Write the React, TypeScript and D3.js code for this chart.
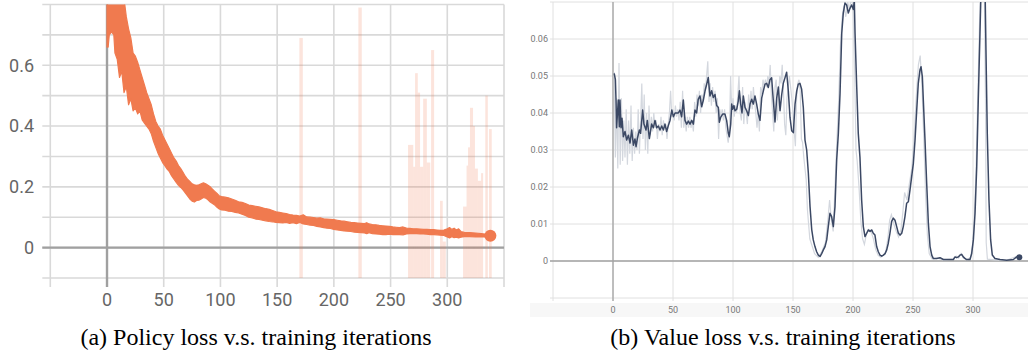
import React from "react";
import { select, scaleLinear, line, area } from "d3";

// (a) policy loss: smoothed curve drawn as a band (low / high edge)
const policySteps = [0, 1, 2, 4, 6, 7, 9, 11, 13, 15, 17, 19, 21, 23, 25, 27, 29, 31, 33, 35, 37, 39, 41, 43, 45, 47, 49, 51, 53, 55, 57, 59, 61, 63, 65, 67, 69, 71, 73, 75, 77, 79, 81, 83, 85, 87, 89, 91, 93, 95, 97, 99, 101, 104, 107, 110, 113, 116, 119, 122, 125, 128, 131, 134, 137, 140, 143, 146, 149, 152, 155, 158, 161, 164, 167, 170, 173, 176, 179, 182, 185, 188, 191, 194, 197, 200, 203, 206, 209, 212, 215, 218, 221, 224, 227, 229, 231, 234, 237, 240, 243, 246, 249, 252, 255, 258, 261, 264, 267, 270, 273, 276, 279, 282, 285, 288, 291, 294, 297, 300, 302, 304, 306, 308, 310, 312, 315, 320, 325, 330, 335, 338];
const policyHi = [0.86, 0.86, 0.86, 0.86, 0.86, 0.86, 0.86, 0.86, 0.86, 0.82, 0.76, 0.72, 0.69, 0.64, 0.63, 0.61, 0.585, 0.56, 0.535, 0.51, 0.49, 0.47, 0.44, 0.415, 0.4, 0.39, 0.37, 0.355, 0.34, 0.325, 0.31, 0.295, 0.285, 0.27, 0.26, 0.248, 0.235, 0.225, 0.218, 0.21, 0.207, 0.205, 0.207, 0.21, 0.213, 0.21, 0.205, 0.2, 0.192, 0.185, 0.178, 0.17, 0.168, 0.166, 0.164, 0.16, 0.156, 0.151, 0.149, 0.145, 0.14, 0.138, 0.136, 0.134, 0.131, 0.128, 0.126, 0.122, 0.118, 0.116, 0.114, 0.112, 0.109, 0.107, 0.106, 0.104, 0.108, 0.101, 0.1, 0.099, 0.097, 0.098, 0.095, 0.094, 0.093, 0.092, 0.09, 0.088, 0.087, 0.085, 0.083, 0.082, 0.081, 0.08, 0.079, 0.082, 0.078, 0.076, 0.075, 0.073, 0.072, 0.071, 0.07, 0.068, 0.067, 0.066, 0.068, 0.064, 0.063, 0.062, 0.062, 0.061, 0.06, 0.06, 0.059, 0.059, 0.058, 0.057, 0.058, 0.062, 0.066, 0.06, 0.064, 0.058, 0.062, 0.053, 0.05, 0.049, 0.048, 0.046, 0.044, 0.043];
const policyLo = [0.66, 0.66, 0.7, 0.71, 0.7, 0.64, 0.62, 0.56, 0.58, 0.51, 0.53, 0.47, 0.49, 0.45, 0.46, 0.44, 0.45, 0.42, 0.41, 0.4, 0.39, 0.375, 0.35, 0.33, 0.31, 0.295, 0.28, 0.27, 0.258, 0.25, 0.236, 0.225, 0.215, 0.205, 0.198, 0.19, 0.18, 0.17, 0.16, 0.153, 0.15, 0.155, 0.156, 0.16, 0.165, 0.163, 0.157, 0.15, 0.145, 0.14, 0.133, 0.127, 0.124, 0.123, 0.12, 0.119, 0.116, 0.114, 0.11, 0.106, 0.1, 0.098, 0.094, 0.093, 0.09, 0.088, 0.086, 0.085, 0.083, 0.082, 0.081, 0.083, 0.08, 0.082, 0.079, 0.083, 0.078, 0.076, 0.074, 0.073, 0.07, 0.068, 0.066, 0.064, 0.063, 0.06, 0.058, 0.057, 0.055, 0.054, 0.053, 0.051, 0.05, 0.049, 0.048, 0.046, 0.049, 0.046, 0.045, 0.044, 0.043, 0.043, 0.044, 0.043, 0.043, 0.043, 0.042, 0.045, 0.046, 0.046, 0.046, 0.045, 0.045, 0.044, 0.043, 0.043, 0.042, 0.041, 0.04, 0.035, 0.032, 0.036, 0.033, 0.034, 0.032, 0.034, 0.036, 0.036, 0.035, 0.035, 0.035, 0.035];
const policyLast = { step: 338, value: 0.039 };

// (a) raw spikes (faded)
const spikeStart = [169.6, 221.6, 265.4, 270, 271.6, 274, 276, 278.7, 282, 285.7, 293.6, 296, 313.9, 317, 318.3, 320, 322.7, 324.4, 327, 329.8, 333.5, 336.8];
const spikeEnd = [172.6, 224.6, 270, 271.6, 274, 276, 278.7, 282, 285, 288.4, 296, 298.7, 317, 318.3, 320, 322.7, 324.4, 327, 329.8, 331.6, 335.7, 339.2];
const spikeTop = [0.69, 0.79, 0.338, 0.266, 0.574, 0.51, 0.266, 0.49, 0.28, 0.65, 0.154, 0.02, 0.135, 0.27, 0.33, 0.46, 0.4, 0.26, 0.22, 0.245, 0.5, 0.39];

const policyXTicks = [0, 50, 100, 150, 200, 250, 300];
const policyYTicks = [0, 0.2, 0.4, 0.6];
const policyXGrid = [-50, 0, 50, 100, 150, 200, 250, 300, 350];
const policyYGrid = [-0.1, 0, 0.1, 0.2, 0.3, 0.4, 0.5, 0.6, 0.7, 0.8];

// (b) value loss: smoothed
const valueSteps = [1, 2, 2.5, 3, 4.4, 5.3, 5.8, 6.7, 7.5, 8.6, 10, 11.4, 12.8, 14.2, 15.6, 17, 18.3, 19.2, 20.3, 22, 23, 24.7, 25.8, 27.5, 28.6, 30.3, 32.2, 33.6, 35, 36.4, 37.8, 39.2, 40.6, 42, 43.3, 44.7, 46, 47.5, 49, 50.3, 51.7, 53, 54.4, 55.8, 57.2, 58.6, 60, 61.4, 62.8, 64.2, 65.6, 67, 68.3, 69.7, 71, 72.5, 73.9, 75.3, 76.7, 78.1, 79.4, 80.8, 82.2, 83.6, 85, 86.4, 87.8, 88.6, 89.7, 91.4, 93.3, 94.7, 96.1, 96.9, 98.1, 98.9, 99.7, 100.8, 101.7, 103.1, 104.4, 105.3, 106.4, 107.5, 108.6, 110, 111.4, 112.8, 114.2, 115.6, 116.9, 118.3, 119.7, 121.1, 122.5, 123.9, 125.3, 126.7, 128.1, 129.4, 130.8, 132.2, 133.6, 135, 136.4, 137.8, 139.2, 140.6, 141.9, 143.3, 144.7, 146.1, 147.5, 148.9, 150.3, 151.7, 153.1, 154.4, 155.8, 157.2, 158.6, 160, 161.4, 162.8, 164.2, 165.6, 166.9, 168.3, 169.7, 171.1, 172.5, 173.9, 175.3, 176.7, 178.1, 179.4, 180.8, 182.2, 183.6, 185, 186.4, 187.8, 189.2, 190.6, 191.9, 193.3, 194.7, 196.1, 197.5, 198.9, 200.3, 201.1, 201.7, 203.1, 204.4, 205.8, 207.2, 208.6, 210, 211.4, 212.8, 214.2, 215.6, 216.9, 218.3, 219.7, 221.1, 222.5, 223.9, 225.3, 226.7, 228.1, 229.4, 230.8, 232.2, 233.6, 235, 236.4, 237.8, 239.2, 240.6, 241.9, 243.3, 244.7, 246.1, 247.5, 248.9, 250.3, 251.7, 253.1, 254.4, 255.8, 256.7, 257.8, 258.6, 260, 261.4, 262.8, 264.2, 265.6, 266.9, 269.7, 272.5, 275.3, 283.6, 285, 286.4, 287.8, 289.2, 290.6, 291.9, 293.3, 294.7, 297.5, 298.9, 300.3, 301.7, 303.1, 304.4, 305.8, 307.2, 308.6, 310, 310.8, 311.9, 313.3, 314.7, 316.1, 318.3, 322.5, 328.1, 333.6, 336.4, 338.6];
const valueLoss = [0.0507, 0.049, 0.0435, 0.036, 0.0435, 0.0363, 0.0435, 0.036, 0.0386, 0.0336, 0.035, 0.0327, 0.034, 0.0319, 0.0354, 0.0313, 0.033, 0.0309, 0.0331, 0.0354, 0.0345, 0.0408, 0.037, 0.0354, 0.038, 0.0331, 0.037, 0.036, 0.038, 0.036, 0.0365, 0.0354, 0.0365, 0.0354, 0.037, 0.035, 0.0365, 0.038, 0.0408, 0.039, 0.04, 0.04, 0.04, 0.0408, 0.039, 0.0435, 0.038, 0.037, 0.0378, 0.037, 0.038, 0.037, 0.0408, 0.04, 0.0437, 0.0446, 0.0417, 0.0435, 0.046, 0.0478, 0.0496, 0.0446, 0.046, 0.0442, 0.045, 0.042, 0.0415, 0.0375, 0.0388, 0.0397, 0.0397, 0.038, 0.0345, 0.0336, 0.037, 0.0424, 0.041, 0.042, 0.0406, 0.041, 0.0433, 0.046, 0.0424, 0.04, 0.0446, 0.0415, 0.0406, 0.0393, 0.0424, 0.0437, 0.0424, 0.0446, 0.0424, 0.0397, 0.038, 0.044, 0.046, 0.0478, 0.048, 0.0469, 0.049, 0.0495, 0.0433, 0.0376, 0.044, 0.047, 0.0406, 0.045, 0.048, 0.0495, 0.051, 0.046, 0.0388, 0.0352, 0.0347, 0.0424, 0.046, 0.0478, 0.048, 0.0464, 0.0415, 0.0327, 0.03, 0.0237, 0.0147, 0.0085, 0.0057, 0.0039, 0.0025, 0.0016, 0.0012, 0.002, 0.003, 0.0039, 0.0057, 0.0093, 0.0129, 0.012, 0.0093, 0.0147, 0.0273, 0.0345, 0.0453, 0.0615, 0.067, 0.0697, 0.0692, 0.067, 0.0683, 0.0692, 0.068, 0.0705, 0.0615, 0.047, 0.0345, 0.028, 0.0165, 0.0093, 0.0066, 0.0075, 0.0084, 0.008, 0.0084, 0.0075, 0.007, 0.0039, 0.0025, 0.0016, 0.0013, 0.0016, 0.002, 0.003, 0.0048, 0.0075, 0.0107, 0.0116, 0.011, 0.0093, 0.0075, 0.007, 0.0075, 0.0093, 0.012, 0.0156, 0.016, 0.0192, 0.0228, 0.0264, 0.0327, 0.0408, 0.048, 0.0516, 0.0525, 0.0498, 0.0435, 0.0327, 0.021, 0.0102, 0.0039, 0.0016, 0.0007, 0.0007, 0.0009, 0.0004, 0.0004, 0.0011, 0.0009, 0.0011, 0.0016, 0.0018, 0.0011, 0.0007, 0.0004, 0.0004, 0.002, 0.0057, 0.0129, 0.0255, 0.0435, 0.0615, 0.08, 0.085, 0.075, 0.057, 0.0345, 0.0165, 0.0057, 0.0016, 0.0007, 0.0004, 0.0002, 0.0004, 0.0011, 0.001];

// (b) value loss: raw
const rawSteps = [1, 2, 3, 4, 5, 6, 7, 8, 9, 10, 11, 12, 13, 14, 15, 16, 17, 18, 19, 20, 21, 22, 23, 24, 25, 26, 27, 28, 29, 30, 31, 32, 33, 34, 35, 36, 37, 38, 39, 40, 41, 42, 43, 44, 45, 46, 47, 48, 49, 50, 51, 52, 53, 54, 55, 56, 57, 58, 59, 60, 61, 62, 63, 64, 65, 66, 67, 68, 69, 70, 71, 72, 73, 74, 75, 76, 77, 78, 79, 80, 81, 82, 83, 84, 85, 86, 87, 88, 89, 90, 91, 92, 93, 94, 95, 96, 97, 98, 99, 100, 101, 102, 103, 104, 105, 106, 107, 108, 109, 110, 111, 112, 113, 114, 115, 116, 117, 118, 119, 120, 121, 122, 123, 124, 125, 126, 127, 128, 129, 130, 131, 132, 133, 134, 135, 136, 137, 138, 139, 140, 141, 142, 143, 144, 145, 146, 147, 148, 149, 150, 151, 152, 153, 154, 155, 156, 157, 158, 159, 160, 161, 162, 163, 164, 166, 168, 171, 174, 177, 179, 180.5, 182, 183.5, 185, 186.5, 188, 189.5, 191, 192.5, 194, 195.5, 197, 198.5, 200, 201.5, 202.5, 203.5, 205, 206.5, 208, 209.5, 211, 213, 215, 217, 219, 221, 223, 225, 227, 229, 230.5, 232, 234, 236, 238, 240, 241.5, 243, 245, 247, 249, 251, 253, 254.5, 256, 257.5, 259, 260.5, 262, 263.5, 266, 270, 275, 284, 286, 288, 290, 292, 295, 298, 299.5, 301, 302.5, 304, 305.5, 307, 309, 310.5, 311, 312, 318, 328, 336, 339];
const rawLoss = [0.051, 0.028, 0.044, 0.025, 0.0535, 0.026, 0.044, 0.027, 0.038, 0.028, 0.041, 0.026, 0.038, 0.029, 0.042, 0.027, 0.036, 0.029, 0.035, 0.03, 0.041, 0.029, 0.038, 0.048, 0.033, 0.045, 0.03, 0.04, 0.029, 0.042, 0.034, 0.039, 0.035, 0.04, 0.036, 0.038, 0.033, 0.037, 0.035, 0.039, 0.034, 0.038, 0.036, 0.037, 0.033, 0.037, 0.04, 0.046, 0.039, 0.041, 0.038, 0.042, 0.039, 0.041, 0.038, 0.043, 0.036, 0.046, 0.036, 0.039, 0.035, 0.039, 0.036, 0.039, 0.036, 0.038, 0.035, 0.043, 0.039, 0.045, 0.042, 0.046, 0.04, 0.045, 0.043, 0.048, 0.046, 0.05, 0.054, 0.043, 0.048, 0.042, 0.047, 0.043, 0.046, 0.04, 0.044, 0.033, 0.041, 0.039, 0.041, 0.038, 0.041, 0.036, 0.034, 0.032, 0.035, 0.05, 0.04, 0.044, 0.039, 0.042, 0.04, 0.045, 0.05, 0.04, 0.038, 0.047, 0.037, 0.043, 0.04, 0.037, 0.045, 0.041, 0.046, 0.041, 0.047, 0.043, 0.04, 0.036, 0.04, 0.035, 0.047, 0.045, 0.049, 0.047, 0.049, 0.047, 0.05, 0.048, 0.053, 0.045, 0.04, 0.035, 0.047, 0.049, 0.038, 0.045, 0.05, 0.048, 0.053, 0.046, 0.037, 0.034, 0.044, 0.047, 0.05, 0.047, 0.044, 0.04, 0.035, 0.031, 0.044, 0.048, 0.049, 0.046, 0.033, 0.032, 0.028, 0.025, 0.022, 0.014, 0.01, 0.006, 0.004, 0.002, 0.001, 0.0025, 0.005, 0.011, 0.0165, 0.011, 0.008, 0.02, 0.032, 0.043, 0.058, 0.066, 0.069, 0.066, 0.07, 0.068, 0.071, 0.069, 0.05, 0.03, 0.027, 0.02, 0.011, 0.006, 0.0045, 0.007, 0.0085, 0.008, 0.006, 0.003, 0.0015, 0.001, 0.0015, 0.002, 0.006, 0.011, 0.0125, 0.01, 0.008, 0.0065, 0.0085, 0.013, 0.0185, 0.0165, 0.021, 0.025, 0.034, 0.046, 0.053, 0.0555, 0.047, 0.033, 0.018, 0.007, 0.002, 0.0005, 0.0008, 0.0003, 0.0005, 0.0013, 0.0008, 0.002, 0.0008, 0.0003, 0.001, 0.004, 0.011, 0.024, 0.045, 0.065, 0.085, 0.088, 0.04, 0.005, 0.0005, 0.0003, 0.0002, 0.0012, 0.0011];

const valueXTicks = [0, 50, 100, 150, 200, 250, 300];
const valueYTicks = [0, 0.01, 0.02, 0.03, 0.04, 0.05, 0.06];
const valueXGrid = [-50, 0, 50, 100, 150, 200, 250, 300];
const valueYGrid = [-0.01, 0, 0.01, 0.02, 0.03, 0.04, 0.05, 0.06, 0.07];

const ORANGE = "#f07a4f";
const NAVY = "#3b4864";

export default function App() {
  const svgRef = React.useRef<SVGSVGElement>(null);

  React.useEffect(() => {
    const svg = select(svgRef.current);
    svg.selectAll("*").remove();

    const defs = svg.append("defs");

    // ---------- (a) policy loss ----------
    const xa = scaleLinear().domain([-50, 350]).range([50.3, 504]);
    const ya = scaleLinear().domain([-0.1, 0.8]).range([278, 4.5]);

    defs
      .append("clipPath")
      .attr("id", "clipA")
      .append("rect")
      .attr("x", xa(-50))
      .attr("y", ya(0.8))
      .attr("width", xa(350) - xa(-50))
      .attr("height", ya(-0.1) - ya(0.8));

    const ga = svg.append("g");
    ga.selectAll("line.gy")
      .data(policyYGrid)
      .join("line")
      .attr("x1", xa(-50) - 8)
      .attr("x2", xa(350))
      .attr("y1", (d) => ya(d))
      .attr("y2", (d) => ya(d))
      .attr("stroke", "#d9d9d9")
      .attr("stroke-width", 1.6);
    ga.selectAll("line.gx")
      .data(policyXGrid)
      .join("line")
      .attr("x1", (d) => xa(d))
      .attr("x2", (d) => xa(d))
      .attr("y1", ya(0.8))
      .attr("y2", ya(-0.1) + 9)
      .attr("stroke", "#d9d9d9")
      .attr("stroke-width", 1.6);
    ga.append("line")
      .attr("x1", xa(-50) - 8)
      .attr("x2", xa(350))
      .attr("y1", ya(0))
      .attr("y2", ya(0))
      .attr("stroke", "#a0a0a0")
      .attr("stroke-width", 2.4);
    ga.append("line")
      .attr("x1", xa(0))
      .attr("x2", xa(0))
      .attr("y1", ya(0.8))
      .attr("y2", ya(-0.1) + 9)
      .attr("stroke", "#a0a0a0")
      .attr("stroke-width", 2.4);

    const pa = ga.append("g").attr("clip-path", "url(#clipA)");
    pa.selectAll("rect.spike")
      .data(spikeTop)
      .join("rect")
      .attr("x", (d, i) => xa(spikeStart[i]))
      .attr("width", (d, i) => xa(spikeEnd[i]) - xa(spikeStart[i]))
      .attr("y", (d) => ya(d))
      .attr("height", (d) => ya(-0.1) - ya(d))
      .attr("fill", ORANGE)
      .attr("fill-opacity", 0.2);

    const band = area<number>()
      .x((d) => xa(d))
      .y0((d, i) => ya(policyLo[i]))
      .y1((d, i) => ya(policyHi[i]));
    pa.append("path")
      .attr("d", band(policySteps))
      .attr("fill", ORANGE)
      .attr("stroke", ORANGE)
      .attr("stroke-width", 1.2)
      .attr("stroke-linejoin", "round");
    ga.append("circle")
      .attr("cx", xa(policyLast.step))
      .attr("cy", ya(policyLast.value))
      .attr("r", 6)
      .attr("fill", ORANGE);

    ga.selectAll("text.yl")
      .data(policyYTicks)
      .join("text")
      .attr("x", 34)
      .attr("y", (d) => ya(d))
      .attr("dy", "0.35em")
      .attr("text-anchor", "end")
      .attr("font-family", "Roboto")
      .attr("font-size", 18)
      .attr("fill", "#666")
      .text((d) => (d === 0 ? "0" : String(d)));
    ga.selectAll("text.xl")
      .data(policyXTicks)
      .join("text")
      .attr("x", (d) => xa(d))
      .attr("y", 306)
      .attr("text-anchor", "middle")
      .attr("font-family", "Roboto")
      .attr("font-size", 18)
      .attr("fill", "#666")
      .text((d) => String(d));

    // ---------- (b) value loss ----------
    const xb = scaleLinear().domain([-50, 346]).range([553, 1028.2]);
    const yb = scaleLinear().domain([-0.01, 0.07]).range([298, 2]);

    defs
      .append("clipPath")
      .attr("id", "clipB")
      .append("rect")
      .attr("x", xb(-50))
      .attr("y", yb(0.07))
      .attr("width", 1028 - xb(-50))
      .attr("height", yb(-0.01) - yb(0.07));

    const gb = svg.append("g");
    gb.append("rect")
      .attr("x", 530)
      .attr("y", 303)
      .attr("width", 498)
      .attr("height", 14)
      .attr("fill", "#f7f7f7");
    gb.selectAll("line.gy")
      .data(valueYGrid)
      .join("line")
      .attr("x1", xb(-50) - 3)
      .attr("x2", 1028)
      .attr("y1", (d) => yb(d))
      .attr("y2", (d) => yb(d))
      .attr("stroke", "#e0e0e0")
      .attr("stroke-width", 1);
    gb.selectAll("line.gx")
      .data(valueXGrid)
      .join("line")
      .attr("x1", (d) => xb(d))
      .attr("x2", (d) => xb(d))
      .attr("y1", yb(0.07))
      .attr("y2", yb(-0.01) + 3)
      .attr("stroke", "#e0e0e0")
      .attr("stroke-width", 1);
    gb.append("line")
      .attr("x1", xb(-50) - 3)
      .attr("x2", 1028)
      .attr("y1", yb(0))
      .attr("y2", yb(0))
      .attr("stroke", "#a3a3a3")
      .attr("stroke-width", 1.3);
    gb.append("line")
      .attr("x1", xb(0))
      .attr("x2", xb(0))
      .attr("y1", yb(0.07))
      .attr("y2", yb(-0.01) + 3)
      .attr("stroke", "#a3a3a3")
      .attr("stroke-width", 1.3);

    const pb = gb.append("g").attr("clip-path", "url(#clipB)");
    const rawLine = line<number>()
      .x((d) => xb(d))
      .y((d, i) => yb(rawLoss[i]));
    pb.append("path")
      .attr("d", rawLine(rawSteps))
      .attr("fill", "none")
      .attr("stroke", "#d3d7de")
      .attr("stroke-width", 1.2);
    const smoothLine = line<number>()
      .x((d) => xb(d))
      .y((d, i) => yb(valueLoss[i]));
    pb.append("path")
      .attr("d", smoothLine(valueSteps))
      .attr("fill", "none")
      .attr("stroke", NAVY)
      .attr("stroke-width", 1.5)
      .attr("stroke-linejoin", "round");
    gb.append("circle")
      .attr("cx", xb(valueSteps[valueSteps.length - 1]))
      .attr("cy", yb(valueLoss[valueLoss.length - 1]))
      .attr("r", 3)
      .attr("fill", NAVY);

    gb.selectAll("text.yl")
      .data(valueYTicks)
      .join("text")
      .attr("x", 548)
      .attr("y", (d) => yb(d))
      .attr("dy", "0.35em")
      .attr("text-anchor", "end")
      .attr("font-family", "Roboto")
      .attr("font-size", 9)
      .attr("fill", "#777")
      .text((d) => (d === 0 ? "0" : d.toFixed(2)));
    gb.selectAll("text.xl")
      .data(valueXTicks)
      .join("text")
      .attr("x", (d) => xb(d))
      .attr("y", 313)
      .attr("text-anchor", "middle")
      .attr("font-family", "Roboto")
      .attr("font-size", 9)
      .attr("fill", "#777")
      .text((d) => String(d));

    // ---------- captions ----------
    svg
      .append("text")
      .attr("x", 256)
      .attr("y", 345)
      .attr("text-anchor", "middle")
      .attr("font-family", "Liberation Serif")
      .attr("font-size", 24)
      .attr("fill", "#000")
      .text("(a) Policy loss v.s. training iterations");
    svg
      .append("text")
      .attr("x", 783)
      .attr("y", 345)
      .attr("text-anchor", "middle")
      .attr("font-family", "Liberation Serif")
      .attr("font-size", 24)
      .attr("fill", "#000")
      .text("(b) Value loss v.s. training iterations");

    return () => {
      svg.selectAll("*").remove();
    };
  }, []);

  return (
    <svg
      ref={svgRef}
      width={1028}
      height={354}
      style={{ position: "absolute", left: 0, top: 0, background: "#fff" }}
    />
  );
}
